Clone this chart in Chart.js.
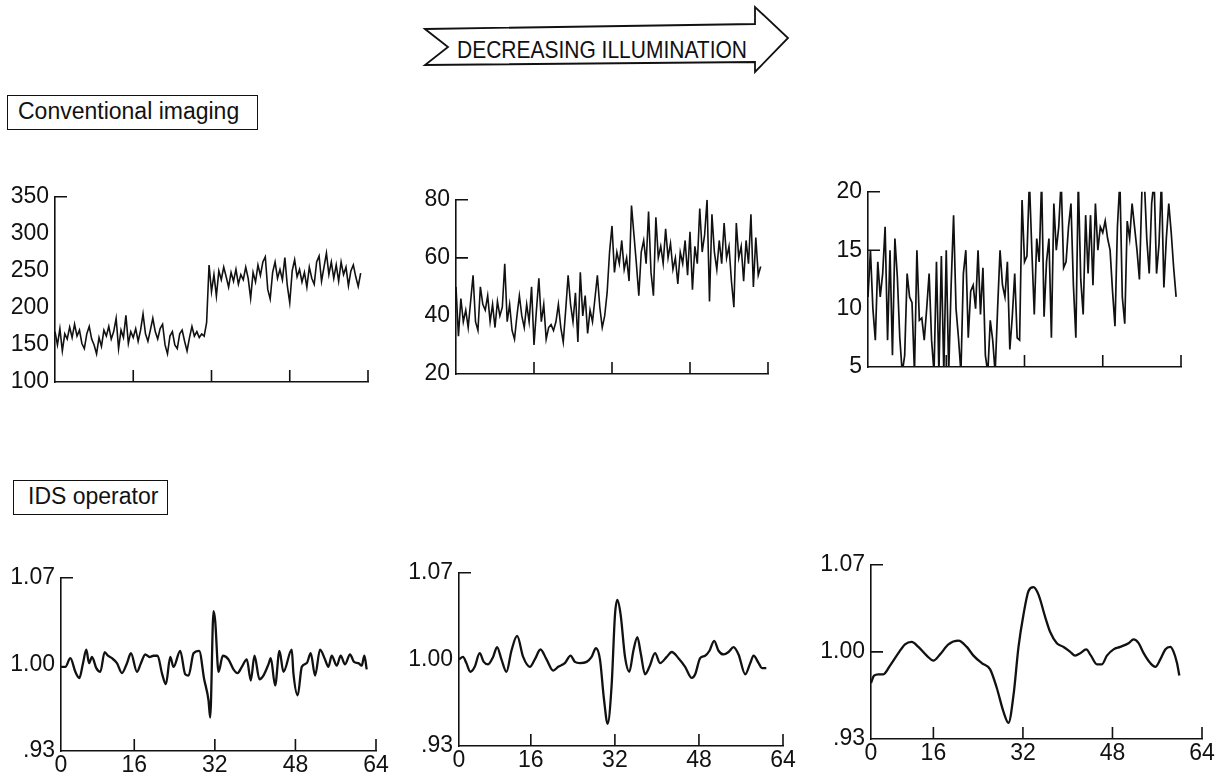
<!DOCTYPE html>
<html>
<head>
<meta charset="utf-8">
<script src="https://cdn.jsdelivr.net/npm/chart.js@4.4.1/dist/chart.umd.min.js"></script>
<style>
  body { margin: 0; background: #fff; }
  #page { position: relative; width: 1221px; height: 780px; overflow: hidden;
          font-family: "Liberation Sans", Arial, Helvetica, sans-serif; color: #111; }
  canvas { position: absolute; }
  .tag { position: absolute; box-sizing: border-box; border: 1.5px solid #111;
         font-size: 23px; line-height: 31px; white-space: nowrap; }
</style>
</head>
<body>
<div id="page">
  <svg width="1221" height="80" style="position:absolute;left:0;top:0">
    <path d="M425,29 L755,24 L755,7 L788,38 L755,72 L755,62 L425,65 L448,47 Z"
          fill="#fff" stroke="#111" stroke-width="1.8"/>
    <text x="457" y="58" font-size="24" textLength="290" lengthAdjust="spacingAndGlyphs"
          fill="#111" font-family="Liberation Sans, Arial, sans-serif">DECREASING ILLUMINATION</text>
  </svg>
  <div class="tag" style="left:7px;top:95px;width:251px;height:35px;padding-left:10px;">Conventional imaging</div>
  <div class="tag" style="left:13px;top:480px;width:155px;height:35px;padding-left:14px;">IDS operator</div>
  <canvas id="c1"></canvas>
  <canvas id="c2"></canvas>
  <canvas id="c3"></canvas>
  <canvas id="c4"></canvas>
  <canvas id="c5"></canvas>
  <canvas id="c6"></canvas>
</div>
<script>
// conventional imaging: one sample every half unit along x (0..64)
const step = 0.5;
const conv1Y = [
  168,150,172,142,165,158,174,160,178,162, 170,152,145,165,175,158,150,138,160,148,
  170,162,175,158,168,186,145,170,160,190, 152,168,160,172,155,170,192,165,155,170,
  186,168,158,172,178,150,138,162,168,150, 145,165,170,155,142,160,175,162,168,160,
  165,162,180,
  258,222,245,216,250,238,255,242,228,248, 236,252,232,245,238,255,240,213,248,235,
  258,244,262,269,225,212,248,262,240,252, 238,268,230,207,250,265,242,252,235,248,
  228,255,240,232,262,270,236,255,274,245, 262,240,258,236,262,245,255,230,250,258,
  242,229,247
];
const conv2Y = [
  50,33,46,38,42,36,45,54,38,35, 50,44,42,47,38,44,36,45,40,43,
  58,38,44,35,32,40,47,40,36,44, 38,50,30,42,53,38,44,32,36,37,
  35,38,44,36,31,42,54,44,38,48, 31,55,40,47,34,42,38,46,54,43,
  36,40,48,
  62,71,55,62,58,66,56,60,52,78, 68,58,47,62,66,58,76,55,47,74,
  60,64,58,70,60,65,56,60,51,62, 58,66,54,69,49,64,58,77,62,68,
  80,45,75,62,56,66,58,72,60,64, 52,43,72,60,64,52,66,58,75,50,
  67,54,57
];
const conv3Y = [
  11,15,10,7.3,14,11,13,17,7.3,15, 6,16,12.7,7.5,4.5,6,13,11,10.5,4.5,
  15,9,9.2,7.3,10,13,7.3,4.5,14,4.5, 14.5,4.5,15,4.5,12,18,10,7.5,4.5,13,
  15,7.5,11.5,12,10,15,9.5,13.5,6,4.5, 9,7.3,4.5,10,15,12,11,14,6.5,9.3,
  13,7.5,7.3,
  19.3,14,14.5,21,15,9.5,16,14,21,9.3, 14,16,7.5,19,15,17,21,13.5,14,17,
  19,12,7.5,21,12.5,9.5,18,13,18,12, 19,15,17,16.5,17.5,16,15,11.5,8.5,17,
  21,11,8.7,17.5,16,19,17,15,12.5,20, 21,16,13,19,21,13,15.5,21,11.8,16,
  19,16.5,13.5,11
];

// IDS operator output
const ids1X = [1.45,2.31,3.31,4.30,5.09,5.82,6.48,7.01,7.60,8.46, 9.26,10.12,10.78,11.57,12.56,13.55,14.55,15.34,16.53,17.32,
  18.18,19.04,19.83,20.63,21.49,22.28,23.14,23.80,25.12,26.12, 26.78,27.77,28.89,29.88,30.74,31.07,31.74,32.07,32.73,33.59,
  34.71,35.70,36.50,37.36,38.35,39.14,39.87,40.86,41.65,42.64, 43.11,43.97,44.83,45.62,47.27,47.60,48.46,49.26,50.25,51.04,
  51.90,52.89,53.88,54.55,55.21,56.20,56.99,57.85,58.84,59.64, 60.50,61.16,61.69,62.15];
const ids1Y = [0.998,0.998,1.005,0.994,0.989,1.001,1.012,1.001,1.006,0.997, 0.994,1.010,1.007,1.005,1.001,0.993,1.001,1.009,0.994,1.001,
  1.008,1.006,1.007,1.007,0.993,0.984,1.006,0.998,1.011,0.992, 0.991,1.009,1.011,0.988,0.971,0.957,1.043,1.035,0.994,1.007,
  1.004,0.996,0.993,0.998,1.004,0.987,1.007,0.988,0.991,1.000, 1.005,0.983,1.011,0.994,1.012,0.993,0.975,0.998,1.001,1.009,
  0.991,1.012,1.004,0.998,1.007,0.999,1.007,1.000,1.008,1.002, 1.001,0.999,1.007,0.996];

const ids2X = [2.33,3.09,3.73,4.49,5.32,6.27,7.04,7.86,8.82,9.58, 10.41,11.36,12.31,13.39,14.54,15.81,16.76,17.84,18.99,20.26,
  21.21,22.48,23.57,24.39,25.35,26.62,27.57,28.40,29.16,29.92, 30.62,31.38,32.02,32.47,33.10,33.93,34.75,35.52,36.28,36.92,
  37.74,38.57,39.65,40.60,41.87,42.83,44.10,45.37,46.64,47.28, 48.23,49.18,50.01,50.90,51.73,52.68,53.64,54.59,55.54,56.81,
  57.77,58.40,59.36,59.99,60.82];
const ids2Y = [1.000,1.002,0.997,0.990,0.994,1.005,0.998,0.996,1.002,1.010, 1.000,0.990,1.007,1.019,1.002,0.994,1.000,1.008,1.000,0.991,
  0.994,0.997,1.003,0.998,0.997,0.998,1.002,1.009,1.000,0.968, 0.948,0.979,1.036,1.048,1.036,1.002,0.990,1.007,1.018,1.005,
  0.988,0.994,1.005,0.997,1.002,1.006,1.001,0.994,0.985,0.988, 1.001,1.003,1.007,1.015,1.007,1.004,1.006,1.010,1.004,0.988,
  0.997,1.003,0.997,0.993,0.993];

const ids3X = [4.85,5.39,6.16,7.06,8.25,9.74,10.93,12.12,13.32,14.81, 16.0,17.19,18.68,20.47,21.96,23.16,24.65,26.14,27.33,28.52,
  29.42,30.31,31.21,32.10,33.0,33.89,34.78,35.98,36.87,38.06, 39.26,40.45,41.34,42.24,43.31,44.15,45.22,46.11,47.01,48.20,
  49.39,50.88,51.78,52.67,53.57,54.76,55.65,56.55,57.44,58.34, 58.93,59.53,59.95];
const ids3Y = [0.975,0.981,0.982,0.982,0.989,0.999,1.006,1.008,1.004,0.997, 0.993,0.998,1.006,1.009,1.004,0.997,0.991,0.986,0.971,0.952,
  0.943,0.965,1.004,1.030,1.049,1.052,1.046,1.028,1.016,1.007, 1.004,1.000,0.997,0.999,1.002,0.997,0.990,0.990,0.997,1.002,
  1.004,1.007,1.010,1.007,0.999,0.991,0.988,0.994,1.002,1.004, 1.000,0.991,0.981];

// ticks
const xTicks = [16, 32, 48, 64];
const xTickLabels = ['0', '16', '32', '48', '64'];
const conv1Ticks = [100, 150, 200, 250, 300, 350];
const conv2Ticks = [20, 40, 60, 80];
const conv3Ticks = [5, 10, 15, 20];
const idsTicks = [0.93, 1.00, 1.07];
const idsTickLabels = ['.93', '1.00', '1.07'];

const FONT = "'Liberation Sans', Arial, Helvetica, sans-serif";
const INK = '#111';
const AXIS_W = 55, AXIS_H = 34, PAD_T = 14, PAD_R = 16;

// short tick marks drawn inside the plot, like the original figure
const innerTicks = {
  id: 'innerTicks',
  afterDraw(chart, args, opts) {
    const { ctx, chartArea: a, scales: { x, y } } = chart;
    const len = 12;
    ctx.save();
    ctx.strokeStyle = INK;
    ctx.lineWidth = 1.6;
    ctx.beginPath();
    (opts.x || []).forEach(v => {
      const px = x.getPixelForValue(v);
      ctx.moveTo(px, a.bottom);
      ctx.lineTo(px, a.bottom - len);
    });
    (opts.y || []).forEach(v => {
      const py = y.getPixelForValue(v);
      ctx.moveTo(a.left, py);
      ctx.lineTo(a.left + len, py);
    });
    ctx.stroke();
    ctx.restore();
  }
};

function panel(id, area, points, opt) {
  const cv = document.getElementById(id);
  const [l, t, r, b] = area;
  cv.width = r - l + AXIS_W + PAD_R;
  cv.height = b - t + PAD_T + AXIS_H;
  cv.style.left = (l - AXIS_W) + 'px';
  cv.style.top = (t - PAD_T) + 'px';

  new Chart(cv, {
    type: 'line',
    data: {
      datasets: [{
        data: points,
        borderColor: INK,
        borderWidth: opt.lw,
        pointRadius: 0,
        tension: 0,
        cubicInterpolationMode: opt.smooth ? 'monotone' : 'default',
        clip: 0
      }]
    },
    options: {
      responsive: false,
      animation: false,
      events: [],
      layout: { padding: { top: PAD_T, right: PAD_R, left: 0, bottom: 0 } },
      plugins: {
        legend: { display: false },
        tooltip: { enabled: false },
        innerTicks: { x: xTicks, y: opt.inner }
      },
      scales: {
        x: {
          type: 'linear', min: opt.xMin, max: 64,
          grid: { display: false, drawTicks: false },
          border: { display: true, color: INK, width: 1.6 },
          afterBuildTicks: s => { s.ticks = [opt.xMin, ...xTicks].map(v => ({ value: v })); },
          afterFit: s => { s.height = AXIS_H; },
          ticks: {
            display: opt.xLabels, padding: 1, maxRotation: 0, autoSkip: false,
            color: INK, font: { family: FONT, size: 23 },
            callback: (v, i) => xTickLabels[i]
          }
        },
        y: {
          type: 'linear', min: opt.yTicks[0], max: opt.yTicks[opt.yTicks.length - 1],
          grid: { display: false, drawTicks: false },
          border: { display: true, color: INK, width: 1.6 },
          afterBuildTicks: s => { s.ticks = opt.yTicks.map(v => ({ value: v })); },
          afterFit: s => { s.width = AXIS_W; },
          ticks: {
            padding: 6, color: INK, font: { family: FONT, size: 23 },
            callback: (v, i) => opt.yLabels ? opt.yLabels[i] : String(v)
          }
        }
      }
    },
    plugins: [innerTicks]
  });
}

const evenPts = ys => ys.map((v, i) => ({ x: i * step, y: v }));
const pairPts = (xs, ys) => xs.map((x, i) => ({ x: x, y: ys[i] }));

panel('c1', [55, 191, 368, 382], evenPts(conv1Y),
  { xMin: 0, yTicks: conv1Ticks, inner: [350], xLabels: false, lw: 1.6 });
panel('c2', [456, 194, 768, 374], evenPts(conv2Y),
  { xMin: 0, yTicks: conv2Ticks, inner: [80, 60], xLabels: false, lw: 1.6 });
panel('c3', [868, 186, 1181, 367], evenPts(conv3Y),
  { xMin: 0, yTicks: conv3Ticks, inner: [20, 15], xLabels: false, lw: 1.7 });

panel('c4', [61, 572, 376, 751], pairPts(ids1X, ids1Y),
  { xMin: ids1X[0], yTicks: idsTicks, yLabels: idsTickLabels, inner: [1.07], xLabels: true, lw: 2.3, smooth: true });
panel('c5', [459, 567, 783, 746], pairPts(ids2X, ids2Y),
  { xMin: ids2X[0], yTicks: idsTicks, yLabels: idsTickLabels, inner: [1.07], xLabels: true, lw: 2.3, smooth: true });
panel('c6', [871, 559, 1202, 739], pairPts(ids3X, ids3Y),
  { xMin: ids3X[0], yTicks: idsTicks, yLabels: idsTickLabels, inner: [1.07, 1.00], xLabels: true, lw: 2.3, smooth: true });
</script>
</body>
</html>
